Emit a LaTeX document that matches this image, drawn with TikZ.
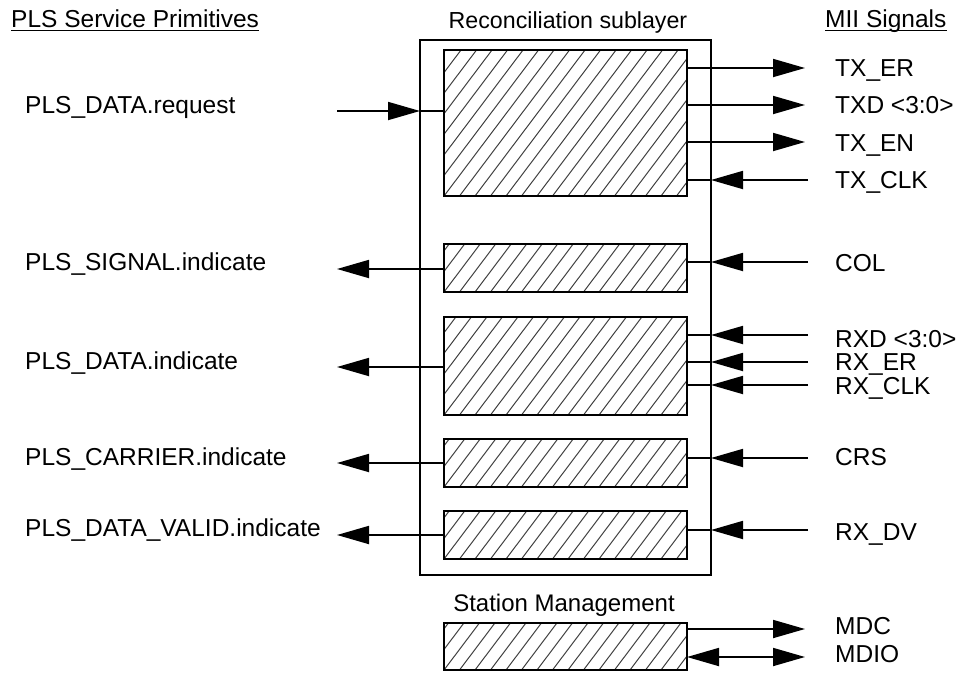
\documentclass[tikz,border=0pt]{standalone}
\usepackage{fontspec}
\setmainfont{Liberation Sans}
\usetikzlibrary{arrows.meta}
\begin{document}
\begin{tikzpicture}[x=1pt,y=-1pt,
  lbl/.style={font=\fontsize{24.5}{29}\selectfont, inner sep=0pt, text height=17.5pt, text depth=0pt},
  ttl/.style={lbl, text depth=3.5pt},
  uline/.style={line width=1.2pt},
  hbox/.style={draw, line width=1.8pt, minimum width=243pt, inner sep=0pt, outer sep=0pt,
    path picture={\foreach \i in {-12,...,20}
      \draw[line width=1pt, black!75] ([xshift=\i*15.5pt]path picture bounding box.south west) -- ++(53:260pt);}},
  wire/.style={line width=1.8pt},
  arr/.style={wire, -{Triangle[length=32pt,width=18pt]}},
  darr/.style={wire, {Triangle[length=32pt,width=18pt]}-{Triangle[length=32pt,width=18pt]}},
]
\useasboundingbox (0,0) rectangle (958,672);

% titles
\node[ttl, anchor=base west] (t1) at (11,27) {PLS Service Primitives};
\draw[uline] (t1.south west) -- (t1.south east);
\node[ttl, anchor=base, font=\fontsize{23.2}{28}\selectfont] (t2) at (568,28) {Reconciliation sublayer};
\node[ttl, anchor=base west] (t3) at (825,27) {MII Signals};
\draw[uline] (t3.south west) -- (t3.south east);

% outer box
\node[draw, line width=1.8pt, minimum width=291pt, minimum height=535pt, inner sep=0pt, outer sep=0pt] (outer) at (565.5,307.5) {};

% inner boxes
\node[hbox, minimum height=146pt] (tx) at (565.5,123) {};
\node[hbox, minimum height=48pt] (sig) at (565.5,268) {};
\node[hbox, minimum height=98pt] (rx) at (565.5,366) {};
\node[hbox, minimum height=48pt] (crs) at (565.5,463) {};
\node[hbox, minimum height=48pt] (dv) at (565.5,535) {};
\node[ttl, anchor=base, font=\fontsize{24}{28}\selectfont] (smt) at (564,611) {Station Management};
\node[hbox, minimum height=47pt] (sm) at (565.5,646.5) {};

% left labels
\node[lbl, anchor=west] (lreq) at (25,105) {PLS\_DATA.request};
\node[lbl, anchor=west] (lsig) at (25,262) {PLS\_SIGNAL.indicate};
\node[lbl, anchor=west] (lrx) at (25,361) {PLS\_DATA.indicate};
\node[lbl, anchor=west] (lcrs) at (25,457) {PLS\_CARRIER.indicate};
\node[lbl, anchor=west] (ldv) at (25,528) {PLS\_DATA\_VALID.indicate};

% right labels
\node[lbl, anchor=west] (rtxer) at (835,68) {TX\_ER};
\node[lbl, anchor=west] (rtxd) at (835,105) {TXD <3:0>};
\node[lbl, anchor=west] (rtxen) at (835,143) {TX\_EN};
\node[lbl, anchor=west] (rtxclk) at (835,180) {TX\_CLK};
\node[lbl, anchor=west] (rcol) at (835,263) {COL};
\node[lbl, anchor=west] (rrxd) at (835,339) {RXD <3:0>};
\node[lbl, anchor=west] (rrxer) at (835,362) {RX\_ER};
\node[lbl, anchor=west] (rrxclk) at (835,386) {RX\_CLK};
\node[lbl, anchor=west] (rcrs) at (835,457) {CRS};
\node[lbl, anchor=west] (rrxdv) at (835,532) {RX\_DV};
\node[lbl, anchor=west] (rmdc) at (835,626) {MDC};
\node[lbl, anchor=west] (rmdio) at (835,654) {MDIO};

% request input
\coordinate (req) at (337,111);
\draw[arr] (req) -- (req -| outer.west);
\draw[wire] (req -| outer.west) -- (req -| tx.west);

% left outputs
\coordinate (osig) at (337,269);
\coordinate (orx) at (337,367);
\coordinate (ocrs) at (337,463);
\coordinate (odv) at (337,535);
\draw[arr] (osig -| sig.west) -- (osig);
\draw[arr] (orx -| rx.west) -- (orx);
\draw[arr] (ocrs -| crs.west) -- (ocrs);
\draw[arr] (odv -| dv.west) -- (odv);

% right outputs
\coordinate (otxer) at (805,68);
\coordinate (otxd) at (805,105);
\coordinate (otxen) at (805,142);
\draw[arr] (otxer -| tx.east) -- (otxer);
\draw[arr] (otxd -| tx.east) -- (otxd);
\draw[arr] (otxen -| tx.east) -- (otxen);

% right inputs
\coordinate (itxclk) at (808,180);
\coordinate (icol) at (808,262);
\coordinate (irxd) at (808,335);
\coordinate (irxer) at (808,362);
\coordinate (irxclk) at (808,385);
\coordinate (icrs) at (808,458);
\coordinate (irxdv) at (808,530);
\draw[arr] (itxclk) -- (itxclk -| outer.east);
\draw[wire] (itxclk -| outer.east) -- (itxclk -| tx.east);
\draw[arr] (icol) -- (icol -| outer.east);
\draw[wire] (icol -| outer.east) -- (icol -| sig.east);
\draw[arr] (irxd) -- (irxd -| outer.east);
\draw[wire] (irxd -| outer.east) -- (irxd -| rx.east);
\draw[arr] (irxer) -- (irxer -| outer.east);
\draw[wire] (irxer -| outer.east) -- (irxer -| rx.east);
\draw[arr] (irxclk) -- (irxclk -| outer.east);
\draw[wire] (irxclk -| outer.east) -- (irxclk -| rx.east);
\draw[arr] (icrs) -- (icrs -| outer.east);
\draw[wire] (icrs -| outer.east) -- (icrs -| crs.east);
\draw[arr] (irxdv) -- (irxdv -| outer.east);
\draw[wire] (irxdv -| outer.east) -- (irxdv -| dv.east);

% station management
\coordinate (omdc) at (805,629);
\coordinate (omdio) at (805,657);
\draw[arr] (omdc -| sm.east) -- (omdc);
\draw[darr] (omdio -| sm.east) -- (omdio);
\end{tikzpicture}
\end{document}
